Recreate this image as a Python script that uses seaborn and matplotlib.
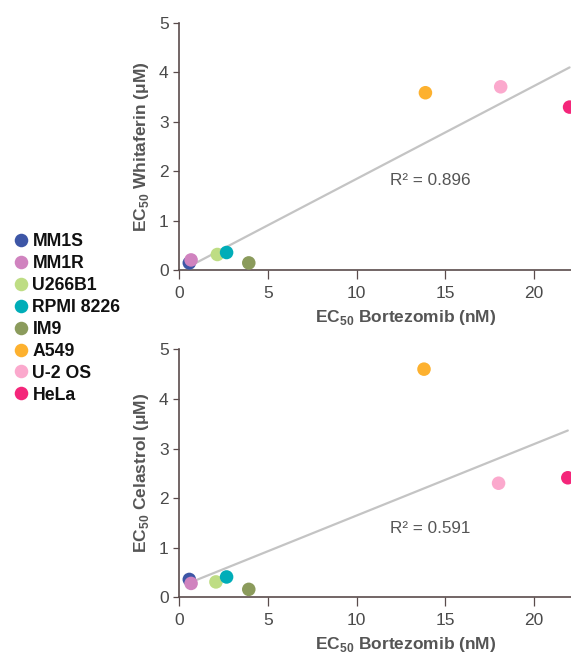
import numpy as np
import pandas as pd
import matplotlib
matplotlib.use("Agg")
import matplotlib.pyplot as plt
import seaborn as sns

cell_lines = ["MM1S", "MM1R", "U266B1", "RPMI 8226", "IM9", "A549", "U-2 OS", "HeLa"]
colors = ["#3d56a6", "#d083bf", "#bedd84", "#00adb8", "#8b9b5c", "#fdb12f", "#fba9cd", "#f4267a"]

bort_top = [0.58, 0.68, 2.16, 2.68, 3.93, 13.88, 18.12, 22.0]
withaferin = [0.15, 0.21, 0.32, 0.36, 0.15, 3.59, 3.71, 3.30]
r2_top = "R² = 0.896"

bort_bot = [0.58, 0.68, 2.08, 2.68, 3.93, 13.80, 18.0, 21.9]
celastrol = [0.36, 0.28, 0.31, 0.41, 0.16, 4.60, 2.30, 2.41]
r2_bot = "R² = 0.591"

xticks = [0, 5, 10, 15, 20]
yticks = [0, 1, 2, 3, 4, 5]

sns.set_style("ticks")
plt.rcParams["font.family"] = ["Liberation Sans", "DejaVu Sans"]
plt.rcParams["mathtext.fontset"] = "custom"
plt.rcParams["mathtext.rm"] = "Liberation Sans"
plt.rcParams["mathtext.bf"] = "Liberation Sans:bold"

palette = dict(zip(cell_lines, colors))
df_top = pd.DataFrame({"line": cell_lines, "x": bort_top, "y": withaferin})
df_bot = pd.DataFrame({"line": cell_lines, "x": bort_bot, "y": celastrol})

fig = plt.figure(figsize=(5.71, 6.55), dpi=100)
ax1 = fig.add_axes([0.3135, 0.5873, 0.6865, 0.3776])
ax2 = fig.add_axes([0.3135, 0.0881, 0.6865, 0.3786])

spine_col = "#5a4c4c"
text_col = "#555555"

for ax, df, ylab, r2, r2y in [
    (ax1, df_top, "EC$_\\mathbf{50}$ Whitaferin (μM)", r2_top, 1.81),
    (ax2, df_bot, "EC$_\\mathbf{50}$ Celastrol (μM)", r2_bot, 1.39),
]:
    sns.regplot(data=df, x="x", y="y", scatter=False, ci=None, ax=ax,
                line_kws=dict(color="#c4c4c4", lw=1.6, zorder=1))
    sns.scatterplot(data=df, x="x", y="y", hue="line", palette=palette,
                    hue_order=cell_lines, s=95, edgecolor="none", ax=ax,
                    legend=(ax is ax1), zorder=3, clip_on=True)
    ax.set_xlim(0, 22.08)
    ax.set_ylim(0, 5)
    ax.set_xticks(xticks)
    ax.set_yticks(yticks)
    ax.tick_params(axis="x", colors=spine_col, labelcolor="#4a4a4a", labelsize=12.5,
                   length=6.5, width=0.9, direction="out", pad=4.5)
    ax.tick_params(axis="y", colors=spine_col, labelcolor="#4a4a4a", labelsize=12.5,
                   length=4, width=0.9, direction="out", pad=3.5)
    for s in ["left", "bottom"]:
        ax.spines[s].set_color(spine_col)
        ax.spines[s].set_linewidth(1.2)
    sns.despine(ax=ax)
    ax.set_xlabel("EC$_\\mathbf{50}$ Bortezomib (nM)", fontsize=12.5,
                  fontweight="bold", color=text_col, labelpad=5)
    ax.xaxis.label.set_x(0.579)
    ax.set_ylabel(ylab, fontsize=12.5, fontweight="bold", color=text_col, labelpad=6)
    ax.text(11.9, r2y, r2, fontsize=12.3, color=text_col, va="center", ha="left")

handles, labels = ax1.get_legend_handles_labels()
ax1.get_legend().remove()
leg = fig.legend(handles, labels, loc="upper left", bbox_to_anchor=(0.009, 0.655),
                 frameon=False, handlelength=1.0, handletextpad=0.15, labelspacing=0.28,
                 markerscale=1.0, borderaxespad=0,
                 prop=dict(weight="bold", size=12.7))
for t in leg.get_texts():
    t.set_color("#111111")

fig.savefig("out.png", dpi=100)
